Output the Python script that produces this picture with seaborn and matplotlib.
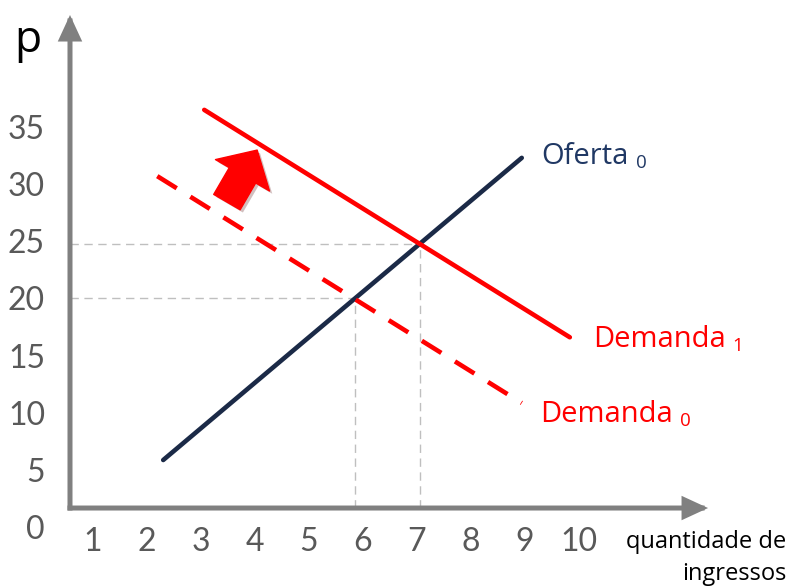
import matplotlib
matplotlib.use("Agg")
import matplotlib.pyplot as plt
import matplotlib.patheffects as pe
import seaborn as sns

# curves (quantity, price)
supply_q = [2.30, 8.94]
supply_p = [5.86, 32.3]
demand1_q = [3.06, 9.83]
demand1_p = [36.5, 16.6]
demand0_q = [2.19, 8.94]
demand0_p = [30.7, 10.85]

# equilibrium points (guide lines)
eq_q = [5.85, 7.05]
eq_p = [20.0, 24.8]

x_ticks = list(range(1, 11))
y_ticks = list(range(0, 40, 5))

# shift arrow: tail -> tip
shift_q = [3.48, 4.04]
shift_p = [28.43, 32.98]

sns.set_style("white")
plt.rcParams["font.family"] = ["Lato", "DejaVu Sans"]

red = "#ff0000"
navy = "#1b2a47"
navy_txt = "#203864"
axis_gray = "#808080"
tick_gray = "#595959"
label_font = ["Open Sans", "DejaVu Sans"]

fig = plt.figure(figsize=(7.97, 5.88), dpi=100)
# axes box in pixels: left 68, right 714, bottom 527, top 15
ax = fig.add_axes([68 / 797, (588 - 527) / 588, (714 - 68) / 797, (527 - 15) / 588])
ax.set_xlim(0.537, 12.5)
ax.set_ylim(0, 44.8)
for s in ax.spines.values():
    s.set_visible(False)

axis_x = 0.574
axis_y = 1.66

# guide lines
ax.hlines(eq_p, xmin=axis_x, xmax=eq_q, colors="#bfbfbf", lw=1.0, linestyles=(0, (6, 4)))
ax.vlines(eq_q, ymin=axis_y, ymax=eq_p, colors="#bfbfbf", lw=1.0, linestyles=(0, (6, 4)))

sns.lineplot(x=supply_q, y=supply_p, color=navy, lw=3.3, ax=ax)
sns.lineplot(x=demand1_q, y=demand1_p, color=red, lw=3.3, ax=ax)
sns.lineplot(x=demand0_q, y=demand0_p, color=red, lw=3.3, linestyle=(0, (5, 3.5)), ax=ax)

# axes with arrows
arrow_kw = dict(arrowstyle="-|>,head_length=1.3,head_width=0.6", color=axis_gray,
                lw=3.6, shrinkA=0, shrinkB=0, capstyle="projecting", joinstyle="miter")
ax.annotate("", xy=(12.39, axis_y), xytext=(axis_x, axis_y), annotation_clip=False, arrowprops=arrow_kw)
ax.annotate("", xy=(axis_x, 44.8), xytext=(axis_x, axis_y), annotation_clip=False, arrowprops=arrow_kw)

# red shift arrow
ax.annotate("", xy=(shift_q[1], shift_p[1]), xytext=(shift_q[0], shift_p[0]),
            arrowprops=dict(arrowstyle="simple,head_length=21,head_width=45,tail_width=22",
                            color=red, shrinkA=0, shrinkB=0, mutation_scale=1,
                            path_effects=[pe.SimplePatchShadow(offset=(2, -2), alpha=0.25), pe.Normal()]))

ax.set_xticks(x_ticks)
ax.set_yticks(y_ticks)
ax.tick_params(axis="both", length=0, labelsize=23, labelcolor=tick_gray)
ax.tick_params(axis="x", pad=0)
ax.tick_params(axis="y", pad=16.5)


def curve_label(x, y, name, sub, color):
    t = ax.text(x, y, name, color=color, fontsize=21, va="baseline", family=label_font)
    ax.annotate(sub, xy=(1, 0), xycoords=t, xytext=(5, 2), textcoords="offset points",
                color=color, fontsize=13.5, va="baseline", family=label_font)


curve_label(9.30, 31.76, "Oferta", "0", navy_txt)
curve_label(10.26, 15.75, "Demanda", "1", red)
curve_label(9.28, 9.19, "Demanda", "0", red)

fig.text(28 / 797, 1 - 52 / 588, "p", fontsize=32, color="black", ha="center", va="baseline",
         family=label_font)
fig.text(786 / 797, 1 - 548 / 588, "quantidade de", fontsize=17, color="black", ha="right",
         va="baseline", family=label_font)
fig.text(786 / 797, 1 - 580 / 588, "ingressos", fontsize=17, color="black", ha="right",
         va="baseline", family=label_font)

fig.savefig("out.png", dpi=100)
